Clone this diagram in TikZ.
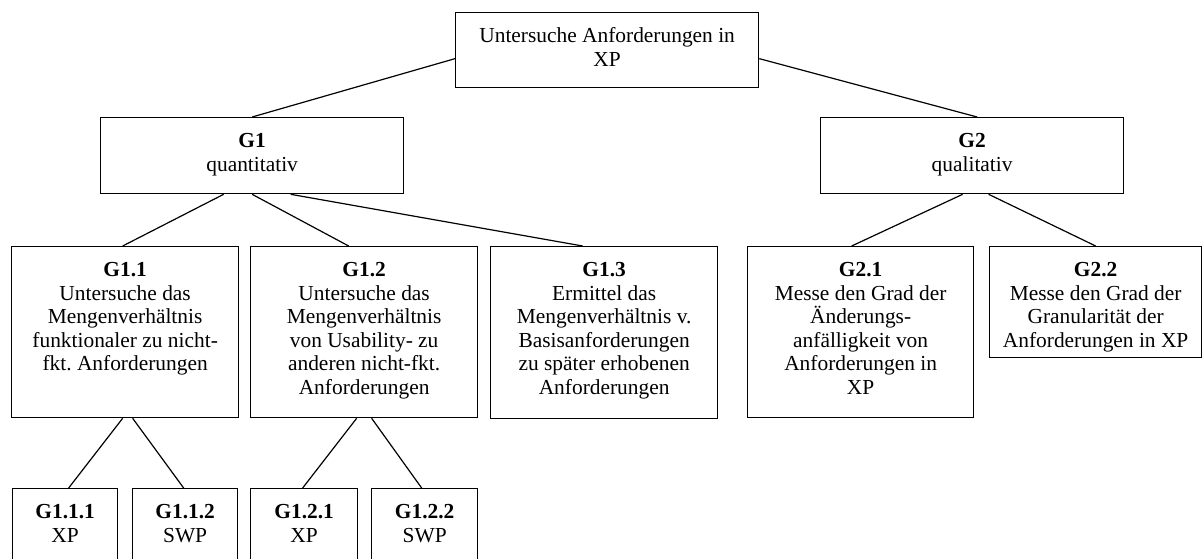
\documentclass[tikz,border=0pt]{standalone}
\usepackage{fontspec}
\setmainfont{Liberation Serif}
\usetikzlibrary{calc}
\frenchspacing
\tikzset{
  box/.style={draw, line width=1.3pt, inner sep=0pt, anchor=north west,
    font=\fontsize{21.4pt}{23.5pt}\selectfont},
  conn/.style={line width=1.2pt}
}
\newcommand{\bxt}[3]{\parbox[t][#2][t]{#1}{\centering\frenchspacing\rule{0pt}{30pt}#3}}
\begin{document}
\begin{tikzpicture}[x=1pt,y=-1pt]
\useasboundingbox (0,0) rectangle (1203,558);
\clip (0,0) rectangle (1203,558);
% level 0
\node[box] (top) at (455,12) {\bxt{303pt}{75pt}{Untersuche Anforderungen in\\XP}};
% level 1
\node[box] (G1) at (100,117) {\bxt{303pt}{76pt}{\textbf{G1}\\quantitativ}};
\node[box] (G2) at (820,117) {\bxt{303pt}{76pt}{\textbf{G2}\\qualitativ}};
% level 2
\node[box] (G11) at (11,246) {\bxt{227pt}{171pt}{\textbf{G1.1}\\Untersuche das\\Mengenverhältnis\\funktionaler zu nicht-\\fkt. Anforderungen}};
\node[box] (G12) at (250,246) {\bxt{227pt}{171pt}{\textbf{G1.2}\\Untersuche das\\Mengenverhältnis\\von Usability- zu\\anderen nicht-fkt.\\Anforderungen}};
\node[box] (G13) at (490,246) {\bxt{227pt}{172pt}{\textbf{G1.3}\\Ermittel das\\Mengenverhältnis v.\\Basisanforderungen\\zu später erhobenen\\Anforderungen}};
\node[box] (G21) at (747,246) {\bxt{226pt}{171pt}{\textbf{G2.1}\\Messe den Grad der\\Änderungs-\\anfälligkeit von\\Anforderungen in\\XP}};
\node[box] (G22) at (989,246) {\bxt{212pt}{111pt}{\textbf{G2.2}\\Messe den Grad der\\Granularität der\\Anforderungen in XP}};
% level 3
\node[box] (G111) at (12,488) {\bxt{105pt}{90pt}{\textbf{G1.1.1}\\XP}};
\node[box] (G112) at (132,488) {\bxt{105pt}{90pt}{\textbf{G1.1.2}\\SWP}};
\node[box] (G121) at (250,488) {\bxt{107pt}{90pt}{\textbf{G1.2.1}\\XP}};
\node[box] (G122) at (371,488) {\bxt{106pt}{90pt}{\textbf{G1.2.2}\\SWP}};
% connectors
\draw[conn] ([yshift=-8.5pt]top.west) -- (G1.north);
\draw[conn] ([yshift=-8.5pt]top.east) -- ([xshift=5pt]G2.north);
\draw[conn] ([xshift=-28.5pt]G1.south) -- ([xshift=-2.5pt]G11.north);
\draw[conn] (G1.south) -- ([xshift=-15.5pt]G12.north);
\draw[conn] ([xshift=38.5pt]G1.south) -- ([xshift=-21.5pt]G13.north);
\draw[conn] ([xshift=-9.5pt]G2.south) -- ([xshift=-9pt]G21.north);
\draw[conn] ([xshift=16.5pt]G2.south) -- (G22.north);
\draw[conn] ([xshift=-2.5pt]G11.south) -- ([xshift=3.5pt]G111.north);
\draw[conn] ([xshift=7.5pt]G11.south) -- ([xshift=-1.5pt]G112.north);
\draw[conn] ([xshift=-7.5pt]G12.south) -- ([xshift=-1.5pt]G121.north);
\draw[conn] ([xshift=7.5pt]G12.south) -- ([xshift=-3pt]G122.north);
\end{tikzpicture}
\end{document}
